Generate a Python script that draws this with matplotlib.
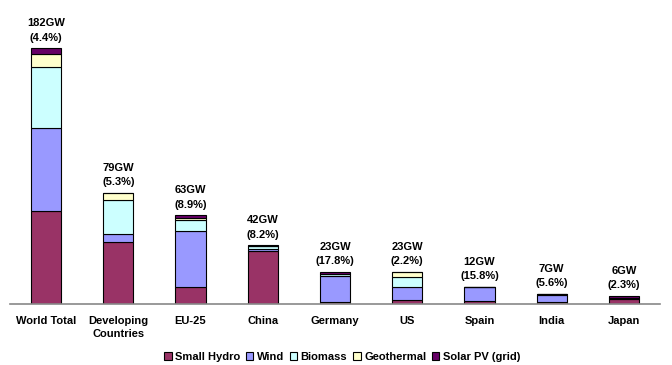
import matplotlib
matplotlib.use("Agg")
import matplotlib.pyplot as plt
import numpy as np

plt.rcParams['font.family'] = ['Liberation Sans', 'DejaVu Sans']

categories = ["World Total", "Developing\nCountries", "EU-25", "China", "Germany",
              "US", "Spain", "India", "Japan"]
totals = ["182GW", "79GW", "63GW", "42GW", "23GW", "23GW", "12GW", "7GW", "6GW"]
shares = ["(4.4%)", "(5.3%)", "(8.9%)", "(8.2%)", "(17.8%)", "(2.2%)", "(15.8%)", "(5.6%)", "(2.3%)"]

small_hydro = [66, 44, 12, 38, 1.6, 3.0, 1.8, 1.7, 3.5]
wind = [59, 6, 40, 1.3, 18.4, 9.0, 10.0, 4.4, 1.0]
biomass = [44, 24, 8, 2.0, 1.2, 7.2, 0.0, 0.9, 0.0]
geothermal = [9, 5, 1, 0.1, 0.0, 3.5, 0.0, 0.0, 0.1]
solar_pv = [4, 0.3, 2, 0.4, 1.8, 0.3, 0.3, 0.1, 1.4]

series = [
    ("Small Hydro", small_hydro, "#993366"),
    ("Wind", wind, "#9999FF"),
    ("Biomass", biomass, "#CCFFFF"),
    ("Geothermal", geothermal, "#FFFFCC"),
    ("Solar PV (grid)", solar_pv, "#660066"),
]

fig = plt.figure(figsize=(6.72, 3.65), dpi=100)
ax = fig.add_axes([10 / 672, 61 / 365, 650 / 672, 281 / 365])

x = np.arange(len(categories))
bottom = np.zeros(len(categories))
for name, vals, color in series:
    ax.bar(x, vals, width=0.42, bottom=bottom, color=color, edgecolor="black",
           linewidth=0.8, label=name)
    bottom += np.array(vals)

for i in range(len(categories)):
    ax.text(x[i], bottom[i] + 4, totals[i] + "\n" + shares[i], ha="center", va="bottom",
            fontsize=8, fontweight="bold", linespacing=1.55)

ax.set_xlim(-0.5, len(categories) - 0.5)
ax.set_ylim(0, 200)
for s in ["top", "right", "left"]:
    ax.spines[s].set_visible(False)
ax.spines["bottom"].set_color("#888888")
ax.spines["bottom"].set_linewidth(1.2)
ax.set_yticks([])
ax.set_xticks(x)
ax.set_xticklabels(categories, fontsize=8, fontweight="bold", linespacing=1.3, va="top")
ax.tick_params(axis="x", length=0, pad=9)

fig.legend(loc="center", bbox_to_anchor=(342 / 672, 1 - 357 / 365), ncol=5, frameon=False,
           prop={"size": 8, "weight": "bold"}, handlelength=0.7, handleheight=0.7,
           handletextpad=0.3, columnspacing=0.5, borderpad=0)

fig.savefig("out.png", dpi=100)
